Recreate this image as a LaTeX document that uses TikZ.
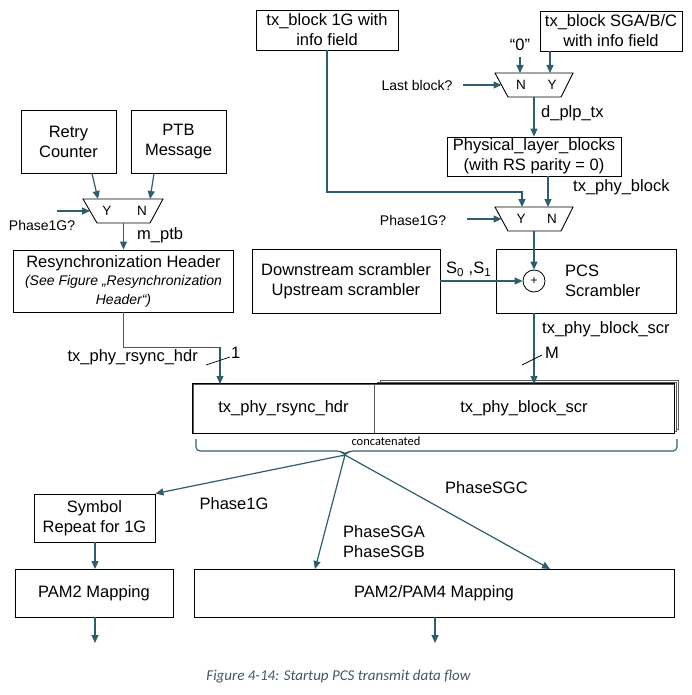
\documentclass[tikz,border=0pt]{standalone}
\usepackage{fontspec}
\setmainfont{Liberation Sans}
\newfontfamily\capfont{Carlito}
\usetikzlibrary{arrows.meta,calc}
\definecolor{tealc}{HTML}{2E5E6E}
\definecolor{capcol}{HTML}{44546A}
\begin{document}
\begin{tikzpicture}[x=1pt,y=-1pt,
 box/.style={draw=black,line width=0.9pt,fill=white,align=center,inner sep=0pt,font=\fontsize{16.5}{20}\selectfont},
 conn/.style={draw=tealc,line width=1.2pt},
 arr/.style={conn,-{Triangle[length=8pt,width=7pt]}},
 lbl/.style={font=\fontsize{16.5}{20}\selectfont,inner sep=0pt},
 small/.style={font=\fontsize{14}{16}\selectfont,inner sep=0pt},
 muxl/.style={font=\fontsize{13.5}{15}\selectfont,inner sep=0pt},
 muxs/.style={draw=black,line width=0.9pt,fill=white},
]
\useasboundingbox (0,0) rectangle (692,695);

% top boxes
\node[box,minimum width=142pt,minimum height=40pt] (g1) at (327,30) {tx\_block 1G with\\info field};
\node[box,minimum width=142pt,minimum height=40pt] (sga) at (611,31) {tx\_block SGA/B/C\\with info field};
\node[box,minimum width=174pt,minimum height=39pt] (plb) at (534,156.5) {Physical\_layer\_blocks\\(with RS parity = 0)};
\node[box,minimum width=95pt,minimum height=63pt] (rc) at (68.5,141.5) {Retry\\Counter};
\node[box,minimum width=95pt,minimum height=63pt] (ptb) at (178.5,141.5) {PTB\\Message};
\node[box,minimum width=220pt,minimum height=62pt] (rh) at (123.5,281) {};
\node[lbl] (rht) at (123.5,263) {Resynchronization Header};
\node[inner sep=0pt,align=center,font=\fontsize{14}{19}\selectfont\itshape] (rhi) at (123.5,291) {(See Figure „Resynchronization\\Header“)};
\node[box,minimum width=188pt,minimum height=64pt] (ds) at (346,281) {Downstream scrambler\\Upstream scrambler};
\node[box,minimum width=180pt,minimum height=64pt] (pcs) at (586,281) {};
\node[lbl,anchor=west,align=left] (pcst) at (565,281) {PCS\\Scrambler};
\node[draw=black,line width=0.8pt,circle,minimum size=22pt,inner sep=0pt,fill=white,font=\fontsize{12}{12}\selectfont] (xor) at (534,281) {+};

% muxes
\coordinate (m0a) at (83,199); \coordinate (m0b) at (163,199);
\coordinate (m0c) at (150,223); \coordinate (m0d) at (97,223);
\draw[muxs] (m0a) -- (m0b) -- (m0c) -- (m0d) -- cycle;
\node[muxl] (m0Y) at (107,211) {Y};
\node[muxl] (m0N) at (142,211) {N};
\coordinate (m1a) at (495,73); \coordinate (m1b) at (573,73);
\coordinate (m1c) at (561,97); \coordinate (m1d) at (508,97);
\draw[muxs] (m1a) -- (m1b) -- (m1c) -- (m1d) -- cycle;
\node[muxl] (m1N) at (521,85) {N};
\node[muxl] (m1Y) at (552,85) {Y};
\coordinate (m2a) at (495,207); \coordinate (m2b) at (573,207);
\coordinate (m2c) at (561,231); \coordinate (m2d) at (508,231);
\draw[muxs] (m2a) -- (m2b) -- (m2c) -- (m2d) -- cycle;
\node[muxl] (m2Y) at (521,219) {Y};
\node[muxl] (m2N) at (552,219) {N};

% mux0 connections
\draw[arr] ($(rc.south)+(23.5,0)$) -- (98,199);
\draw[arr] ($(ptb.south)+(-24.5,0)$) -- (150,199);
\node[small] (p1g0) at (42,225) {Phase1G?};
\coordinate (p1g0s) at (57,211);
\draw[arr] (p1g0s) -- (90,211);
\draw[arr] (123.5,223) -- (rh.north);
\node[lbl,anchor=west] (mptb) at (137,235) {m\_ptb};

% mux1 connections
\node[lbl] (zero) at (520,45) {“0”};
\draw[arr] (520,57) -- (520,73);
\draw[arr] (550,51) -- (550,73);
\node[small] (lastb) at (417,85) {Last block?};
\draw[arr] (463,85) -- (501.5,85);
\draw[arr] (534,97) -- (plb.north);
\node[lbl,anchor=west] (dplp) at (541,113) {d\_plp\_tx};

% mux2 connections
\draw[arr] (548,176) -- (548,207);
\node[lbl,anchor=west] (txpb) at (573,187) {tx\_phy\_block};
\draw[arr] (g1.south) -- (327,192) -- (522,192) -- (522,207);
\node[small] (p1g2) at (413,220) {Phase1G?};
\draw[arr] (467,219) -- (501.5,219);
\draw[arr] (534,231) -- (xor.north);

% scrambler
\draw[arr] (ds.east) -- (xor.west);
\node[lbl,anchor=west] (s01) at (446,269) {S\textsubscript{0} ,S\textsubscript{1}};

% concatenated boxes
\coordinate (catA) at (374,384); \coordinate (catB) at (674,433);
\draw[draw=gray!70!black,line width=0.7pt,fill=white] ($(catA)+(6,-4)$) rectangle ($(catB)+(4,-4)$);
\draw[draw=gray!70!black,line width=0.7pt,fill=white] ($(catA)+(3,-2)$) rectangle ($(catB)+(2,-2)$);
\node[box,draw=gray!70!black,line width=0.9pt,minimum width=181pt,minimum height=49pt] (hdr) at (283.5,408.5) {tx\_phy\_rsync\_hdr};
\node[box,draw=gray!70!black,line width=0.9pt,minimum width=300pt,minimum height=49pt] (scr) at (524,408.5) {tx\_phy\_block\_scr};
\draw[line width=1.8pt] (hdr.north west) rectangle (scr.south east);

\coordinate (hdrin) at (220,384);
\draw[arr] (rh.south) -- ++(0,35) -| (hdrin);
\node[lbl,anchor=east] (rsl) at (198,357) {tx\_phy\_rsync\_hdr};
\draw[line width=0.7pt] (206,365) -- (230,357);
\node[lbl,anchor=west] (one) at (231,353) {1};

\coordinate (scrin) at (534,384);
\draw[arr] (pcs.south -| xor) -- (scrin);
\node[lbl,anchor=west] (bsl) at (542,329) {tx\_phy\_block\_scr};
\draw[line width=0.7pt] (522,365) -- (542,355);
\node[lbl,anchor=west] (mm) at (545,353) {M};

% brace
\coordinate (tip) at (345,455);
\draw[conn,line width=1.1pt,rounded corners=4pt] (196,439) -- (196,451) -- (341,451) -- (tip) -- (349,451) -- (677,451) -- (677,439);
\node[inner sep=0pt,font=\capfont\fontsize{12.5}{13}\selectfont] (cc) at (386,441) {concatenated};

% bottom boxes
\node[box,minimum width=121pt,minimum height=48pt] (sym) at (94.5,518) {Symbol\\Repeat for 1G};
\node[box,minimum width=158pt,minimum height=48pt] (pam2) at (94,593) {PAM2 Mapping};
\node[box,minimum width=480pt,minimum height=48pt] (pam24) at (434,593) {PAM2/PAM4 Mapping};

\draw[arr] (tip) -- (sym.north east);
\draw[arr] (tip) -- (315,569);
\draw[arr] (tip) -- (550,569);
\node[lbl] (ph1) at (234,504) {Phase1G};
\node[lbl,anchor=west,align=left] (phab) at (343,542) {PhaseSGA\\PhaseSGB};
\node[lbl,anchor=west] (phc) at (445,488) {PhaseSGC};

\draw[arr] (95,542) -- (95,569);
\coordinate (o1) at (95,643);
\draw[arr] (95,617) -- (o1);
\coordinate (o2) at (435,643);
\draw[arr] (435,617) -- (o2);

\node[inner sep=0pt,text=capcol,font=\capfont\itshape\fontsize{15}{17}\selectfont] (cap) at (338.5,677) {Figure 4-14: Startup PCS transmit data flow};
\end{tikzpicture}
\end{document}
